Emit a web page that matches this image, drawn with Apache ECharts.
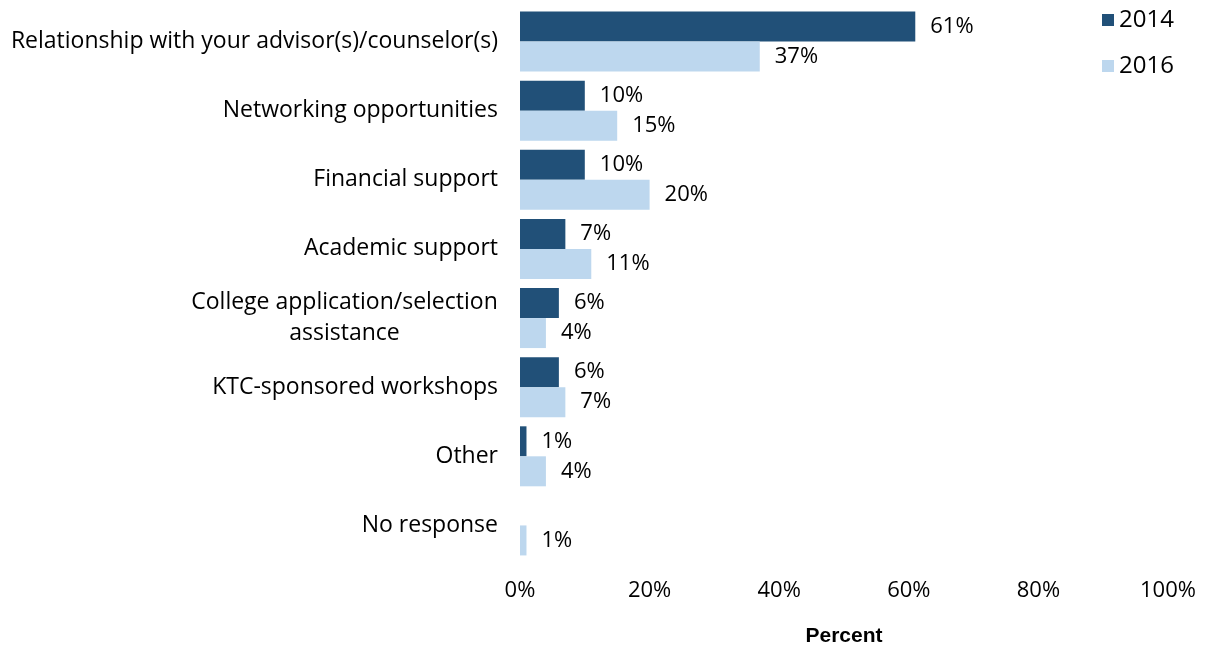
<!DOCTYPE html>
<html>
<head>
<meta charset="utf-8">
<script src="https://cdn.jsdelivr.net/npm/echarts@6/dist/echarts.min.js"></script>
<style>
  html, body { margin: 0; padding: 0; background: #fff; }
  #chart { width: 1208px; height: 650px; }
</style>
</head>
<body>
<div id="chart"></div>
<script>
// Program components rated most helpful, by survey year
const categories = [
  'Relationship with your advisor(s)/counselor(s)',
  'Networking opportunities',
  'Financial support',
  'Academic support',
  'College application/selection\nassistance',
  'KTC-sponsored workshops',
  'Other',
  'No response'
];
const values2014 = [61, 10, 10, 7, 6, 6, 1, null];
const values2016 = [37, 15, 20, 11, 4, 7, 4, 1];
const xTicks = [0, 20, 40, 60, 80, 100];

const FONT = '"Open Sans", "Liberation Sans", Arial, sans-serif';
const CAT_SIZE = 23;

// width of the longest line of a wrapped label, so its lines can be centred on each other
function lineWidth(text) {
  const ctx = document.createElement('canvas').getContext('2d');
  ctx.font = CAT_SIZE + 'px ' + FONT;
  return Math.max(...text.split('\n').map(s => ctx.measureText(s).width));
}

const chart = echarts.init(document.getElementById('chart'));

const labelStyle = {
  show: true,
  position: 'right',
  distance: 15,
  color: '#000',
  fontFamily: FONT,
  fontSize: 22,
  formatter: p => p.value + '%'
};

const wrapped = categories.find(c => c.includes('\n'));

chart.setOption({
  animation: false,
  textStyle: { fontFamily: FONT },
  legend: {
    orient: 'vertical',
    left: 1097,
    top: 3,
    itemGap: 22,
    itemWidth: 12,
    itemHeight: 12,
    icon: 'rect',
    textStyle: { fontSize: 24, color: '#000', fontFamily: FONT },
    data: ['2014', '2016']
  },
  grid: { left: 520, width: 648, top: 7, bottom: 90, containLabel: false, outerBoundsMode: 'none' },
  xAxis: {
    type: 'value',
    min: 0,
    max: 100,
    interval: 20,
    axisLine: { show: false },
    axisTick: { show: false },
    splitLine: { show: false },
    axisLabel: {
      color: '#000',
      fontSize: 22,
      fontFamily: FONT,
      margin: 20,
      formatter: v => xTicks.includes(v) ? v + '%' : ''
    },
    name: 'Percent',
    nameLocation: 'middle',
    nameGap: 66,
    nameTextStyle: { color: '#000', fontSize: 21, fontWeight: 'bold', fontFamily: '"Liberation Sans", Arial, sans-serif' }
  },
  yAxis: {
    type: 'category',
    inverse: true,
    data: categories,
    axisLine: { show: false },
    axisTick: { show: false },
    axisLabel: {
      color: '#000',
      fontSize: CAT_SIZE,
      fontFamily: FONT,
      margin: 22,
      align: 'right',
      lineHeight: 31,
      formatter: v => v.includes('\n')
        ? v.split('\n').map(s => '{c|' + s + '}').join('\n')
        : v,
      rich: {
        c: { width: Math.ceil(lineWidth(wrapped)), align: 'center', fontSize: CAT_SIZE, color: '#000', fontFamily: FONT, lineHeight: 31 }
      }
    }
  },
  series: [
    {
      name: '2014',
      type: 'bar',
      data: values2014,
      barWidth: 30,
      barGap: '0%',
      itemStyle: { color: '#215078' },
      label: labelStyle
    },
    {
      name: '2016',
      type: 'bar',
      data: values2016,
      barWidth: 30,
      itemStyle: { color: '#BDD7EE' },
      label: labelStyle
    }
  ]
});
</script>
</body>
</html>
